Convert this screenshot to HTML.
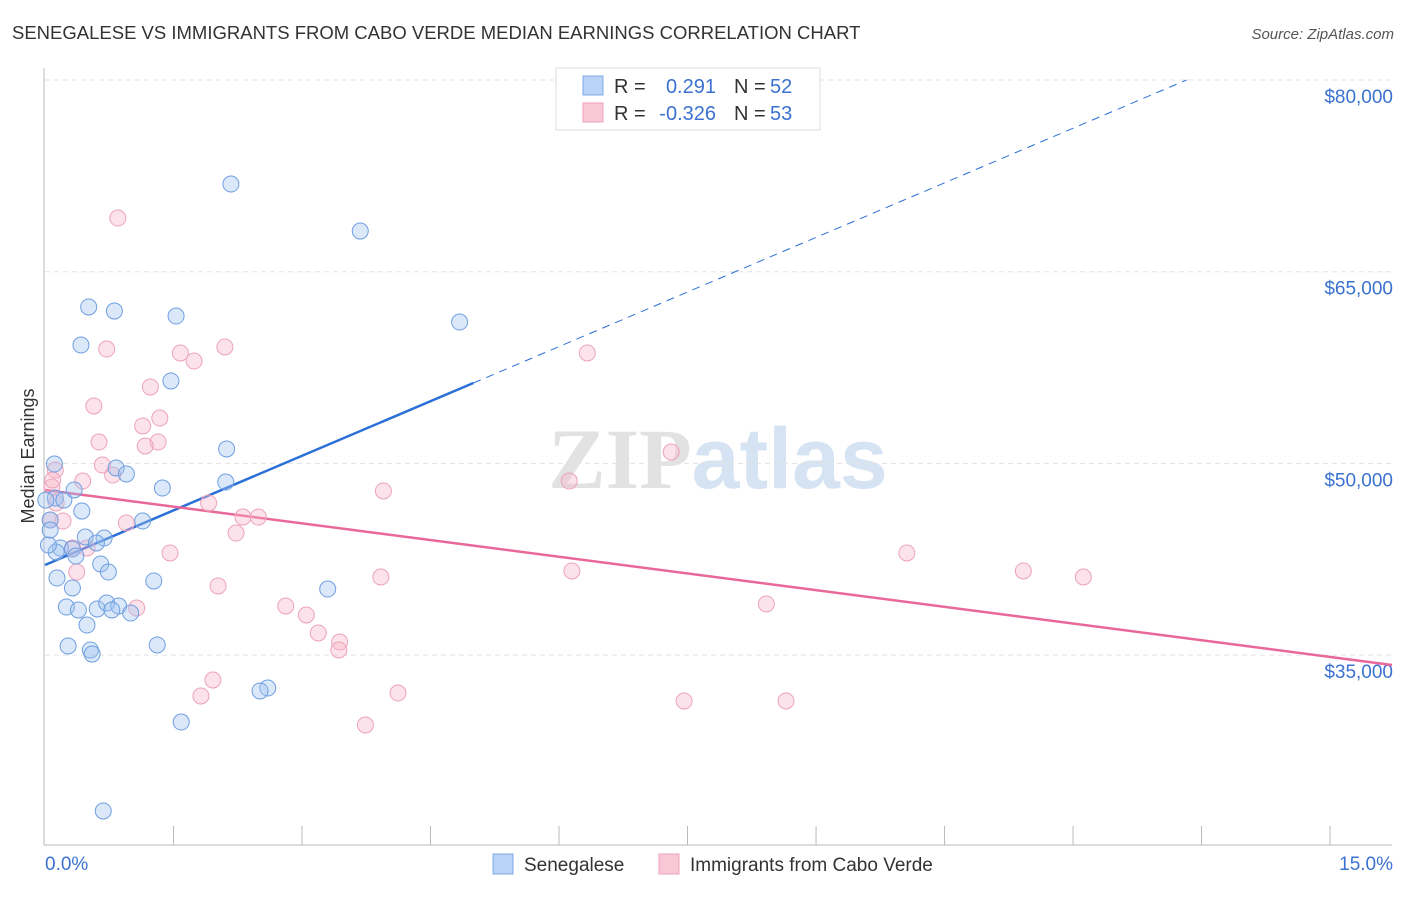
<!DOCTYPE html>
<html><head><meta charset="utf-8"><style>
body{margin:0;background:#fff;font-family:"Liberation Sans",sans-serif;}
svg text{font-family:"Liberation Sans",sans-serif;}
</style></head><body>
<svg id="chart" width="1406" height="892" xmlns="http://www.w3.org/2000/svg">
<text x="12" y="39" font-size="18.5" fill="#333">SENEGALESE VS IMMIGRANTS FROM CABO VERDE MEDIAN EARNINGS CORRELATION CHART</text>
<text x="1394" y="39" font-size="15" fill="#555" text-anchor="end" font-style="italic">Source: ZipAtlas.com</text>
<text x="718" y="488" font-size="86" text-anchor="middle"><tspan fill="#e2e2e2" font-family="Liberation Serif" font-weight="bold">ZIP</tspan><tspan fill="#d6e3f3" font-weight="bold">atlas</tspan></text>
<g id="grid"></g>
<g id="axes"></g>
<g id="trends"></g>
<g id="pts"></g>
<text transform="translate(34,456) rotate(-90)" font-size="18" fill="#333" text-anchor="middle">Median Earnings</text>
<g>
<rect x="556" y="68" width="264" height="62" fill="#fff" stroke="#ddd"/>
<rect x="583" y="76" width="20" height="19" fill="#b9d3f6" stroke="#7eaae6"/>
<rect x="583" y="103" width="20" height="19" fill="#f9c8d6" stroke="#eda3ba"/>
<text x="614" y="93" font-size="20" fill="#333">R =</text>
<text x="716" y="93" font-size="20" fill="#3b72d1" text-anchor="end">0.291</text>
<text x="734" y="93" font-size="20" fill="#333">N =</text>
<text x="770" y="93" font-size="20" fill="#3b72d1">52</text>
<text x="614" y="120" font-size="20" fill="#333">R =</text>
<text x="716" y="120" font-size="20" fill="#3b72d1" text-anchor="end">-0.326</text>
<text x="734" y="120" font-size="20" fill="#333">N =</text>
<text x="770" y="120" font-size="20" fill="#3b72d1">53</text>
</g>
<g>
<rect x="493" y="854" width="20" height="20" fill="#b9d3f6" stroke="#7eaae6"/>
<text x="524" y="871" font-size="19" fill="#333">Senegalese</text>
<rect x="659" y="854" width="20" height="20" fill="#f9c8d6" stroke="#eda3ba"/>
<text x="690" y="871" font-size="19" fill="#333">Immigrants from Cabo Verde</text>
</g>
</svg>
<script>
const yTicks=[35000,50000,65000,80000];
const yTickLabels=["$35,000","$50,000","$65,000","$80,000"];
const xTickCount=10;
const xLabels=["0.0%","15.0%"];
const blueX=[2.17,3.68,0.51,0.81,1.53,4.84,0.42,1.47,2.12,0.11,0.83,0.95,2.11,0.34,1.37,0.12,0.22,0.43,1.14,0.06,0.47,0.69,0.60,0.18,0.32,0.13,0.36,0.65,0.74,1.27,0.14,0.32,3.30,0.25,0.39,0.61,0.72,0.86,0.78,1.00,0.49,0.27,1.31,0.53,0.55,2.60,2.51,1.59,0.68,0.04,0.06,0.01];
const blueY=[71860,68180,62240,61920,61530,61060,59260,56450,51130,49950,49640,49170,48540,47920,48070,47290,47130,46270,45490,45570,44240,44160,43770,43380,43300,43070,42750,42130,41500,40800,41030,40250,40170,38760,38530,38610,39080,38840,38530,38290,37350,35710,35790,35400,35080,32420,32190,29760,22800,43610,44790,47130];
const pinkX=[0.85,0.72,2.10,1.58,1.74,6.33,1.23,0.57,1.34,1.14,1.32,0.63,1.17,7.31,0.67,0.12,0.79,0.44,6.12,3.95,0.08,1.91,0.13,2.31,2.49,0.21,0.95,2.23,0.49,1.46,10.06,0.37,6.15,11.42,3.92,12.12,2.02,8.42,2.81,1.07,3.05,3.19,3.44,3.43,1.96,4.12,1.82,7.46,8.65,3.74,0.06,0.09,0.32];
const pinkY=[69200,58950,59110,58640,58010,58640,55980,54490,53550,52930,51670,51670,51360,50890,49870,49480,49090,48620,48620,47840,48150,46900,46900,45800,45800,45490,45340,44550,43380,42990,42990,41500,41580,41580,41110,41110,40410,39000,38840,38680,38140,36730,36020,35400,33050,32030,31800,31410,31410,29530,45570,48700,43380];
const blueTrend=[42050,2848];
const pinkTrend=[47920,-871];
const NS="http://www.w3.org/2000/svg";
const X=v=>45+v*85.67;
const Y=v=>80+(80000-v)/78.25;
function mk(tag,attrs,parent){const e=document.createElementNS(NS,tag);for(const k in attrs)e.setAttribute(k,attrs[k]);parent.appendChild(e);return e;}
const grid=document.getElementById('grid'),axes=document.getElementById('axes'),tr=document.getElementById('trends'),pts=document.getElementById('pts');
yTicks.forEach((t,i)=>{
 const l=mk('line',{x1:45,x2:1392,y1:Y(t),y2:Y(t),stroke:'#e3e3e3','stroke-dasharray':'5,4'},grid);
 
 
 const tx=mk('text',{x:1393,y:Y(t)+23,'font-size':19,fill:'#3b72d1','text-anchor':'end'},axes);
 tx.textContent=yTickLabels[i];
 
 
});
let a=mk('line',{x1:44,x2:44,y1:68,y2:845,stroke:'#bbb'},axes);


a=mk('line',{x1:44,x2:1392,y1:845,y2:845,stroke:'#bbb'},axes);


for(let i=1;i<=xTickCount;i++){const t=mk('line',{x1:X(i*1.5),x2:X(i*1.5),y1:826,y2:845,stroke:'#bbb'},axes);
 
 }
let t0=mk('text',{x:45,y:870,'font-size':19,fill:'#3b72d1'},axes);t0.textContent=xLabels[0];


let t1=mk('text',{x:1393,y:870,'font-size':19,fill:'#3b72d1','text-anchor':'end'},axes);t1.textContent=xLabels[1];


function dot(x,y,fill,stroke,name){const c=mk('circle',{cx:X(x),cy:Y(y),r:8,fill:fill,stroke:stroke,'stroke-width':1},pts);
 
 }
pinkX.forEach((x,i)=>dot(x,pinkY[i],'rgba(246,180,200,0.38)','#eda3ba','point-cabo-verde'));
blueX.forEach((x,i)=>dot(x,blueY[i],'rgba(160,195,240,0.38)','#6f9fe0','point-senegalese'));
const bE=5.0,bD=(80000-blueTrend[0])/blueTrend[1];
let l=mk('line',{x1:X(0),y1:Y(blueTrend[0]),x2:X(bE),y2:Y(blueTrend[0]+blueTrend[1]*bE),stroke:'#2a6fd6','stroke-width':2.5},tr);


l=mk('line',{x1:X(bE),y1:Y(blueTrend[0]+blueTrend[1]*bE),x2:X(bD),y2:Y(80000),stroke:'#2a6fd6','stroke-width':1,'stroke-dasharray':'8,6'},tr);


const pE=(1392-45)/85.67;
l=mk('line',{x1:X(0),y1:Y(pinkTrend[0]),x2:X(pE),y2:Y(pinkTrend[0]+pinkTrend[1]*pE),stroke:'#e8689a','stroke-width':2.5},tr);


</script>
</body></html>
